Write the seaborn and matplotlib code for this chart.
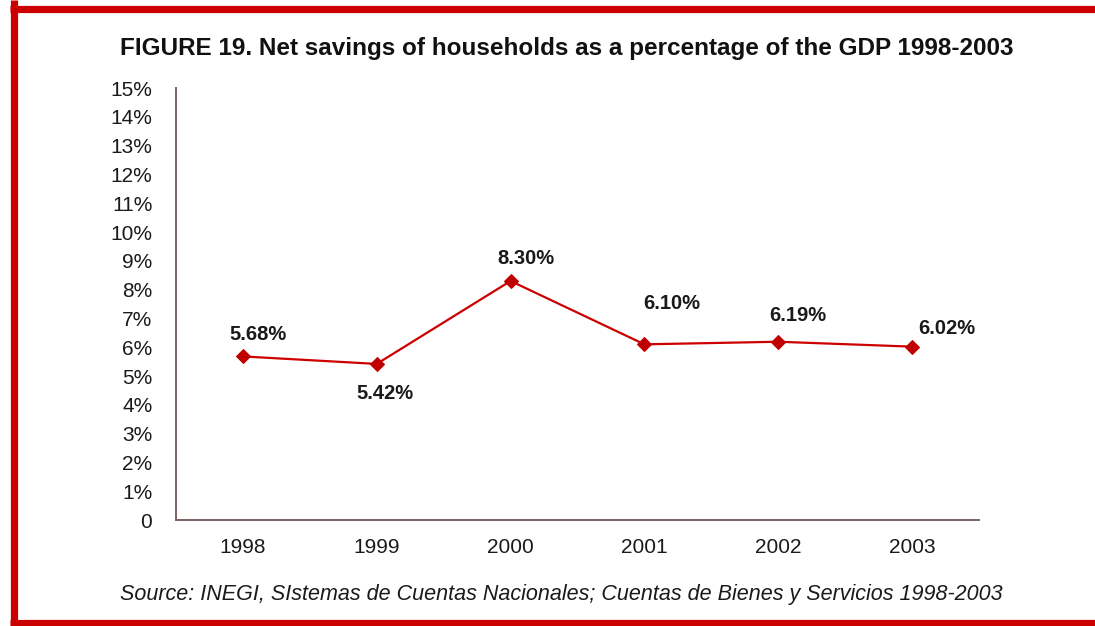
import matplotlib
matplotlib.use("Agg")
import matplotlib.pyplot as plt
from matplotlib.lines import Line2D
import seaborn as sns
import pandas as pd

years = ["1998", "1999", "2000", "2001", "2002", "2003"]
savings_pct = [5.68, 5.42, 8.30, 6.10, 6.19, 6.02]
y_tick_values = list(range(0, 16))
y_tick_labels = ["0"] + [f"{v}%" for v in range(1, 16)]
title_text = "FIGURE 19. Net savings of households as a percentage of the GDP 1998-2003"
source_text = "Source: INEGI, SIstemas de Cuentas Nacionales; Cuentas de Bienes y Servicios 1998-2003"

sns.set_theme(style="white")
plt.rcParams["font.family"] = ["Liberation Sans", "DejaVu Sans"]

df = pd.DataFrame({"pos": range(len(years)), "value": savings_pct, "year": years})

fig = plt.figure(figsize=(10.95, 6.26), dpi=100)
ax = fig.add_axes([0.1607, 0.1693, 0.7334, 0.6901])

line_red = "#cc0000"
marker_red = "#c00000"
axis_col = "#7a6262"

sns.lineplot(data=df, x="pos", y="value", ax=ax, color=line_red, linewidth=1.6,
             marker="D", markersize=7.5, markerfacecolor=marker_red,
             markeredgecolor=marker_red)

ax.set_xlim(-0.5, len(years) - 0.5)
ax.set_ylim(0, 15)
ax.set_yticks(y_tick_values)
ax.set_yticklabels(y_tick_labels, fontsize=15, color="#1a1a1a")
ax.set_xticks(range(len(years)))
ax.set_xticklabels(years, fontsize=15, color="#1a1a1a")
ax.set_xticks([i - 0.5 for i in range(len(years) + 1)], minor=True)
ax.tick_params(axis="x", which="major", length=0, pad=13)
ax.tick_params(axis="x", which="minor", length=6, width=1.2, color=axis_col, direction="out")
ax.tick_params(axis="y", which="major", length=7.5, width=1.2, color=axis_col,
               direction="out", pad=9.5)
ax.set_xlabel("")
ax.set_ylabel("")

for side in ["top", "right"]:
    ax.spines[side].set_visible(False)
for side in ["left", "bottom"]:
    ax.spines[side].set_color(axis_col)
    ax.spines[side].set_linewidth(1.4)

# value labels: (dx, dy) offsets in points from each marker
offsets = [(11, 16), (6, -21), (11, 16), (20, 29.5), (14, 19), (25, 13)]
for i, (v, (dx, dy)) in enumerate(zip(savings_pct, offsets)):
    ax.annotate(f"{v:.2f}%", (i, v), xytext=(dx, dy), textcoords="offset points",
                ha="center", va="center", fontsize=14.5, fontweight="bold", color="#1a1a1a")

fig.text(0.518, 0.923, title_text, ha="center", va="center", fontsize=17.5,
         fontweight="bold", color="#111111")
fig.text(0.513, 0.051, source_text, ha="center", va="center", fontsize=15.5,
         style="italic", color="#1a1a1a")

# red frame on left, top and bottom edges
frame_col = "#cc0000"
fig.add_artist(Line2D([13.5 / 1095, 13.5 / 1095], [0, 1], transform=fig.transFigure,
                      color=frame_col, linewidth=5.2, solid_capstyle="butt"))
fig.add_artist(Line2D([0.009, 1], [1 - 9 / 626, 1 - 9 / 626], transform=fig.transFigure,
                      color=frame_col, linewidth=5.2, solid_capstyle="butt"))
fig.add_artist(Line2D([0.009, 1], [1 - 622.5 / 626, 1 - 622.5 / 626], transform=fig.transFigure,
                      color=frame_col, linewidth=5.2, solid_capstyle="butt"))

fig.savefig("out.png", dpi=100, facecolor="white")
